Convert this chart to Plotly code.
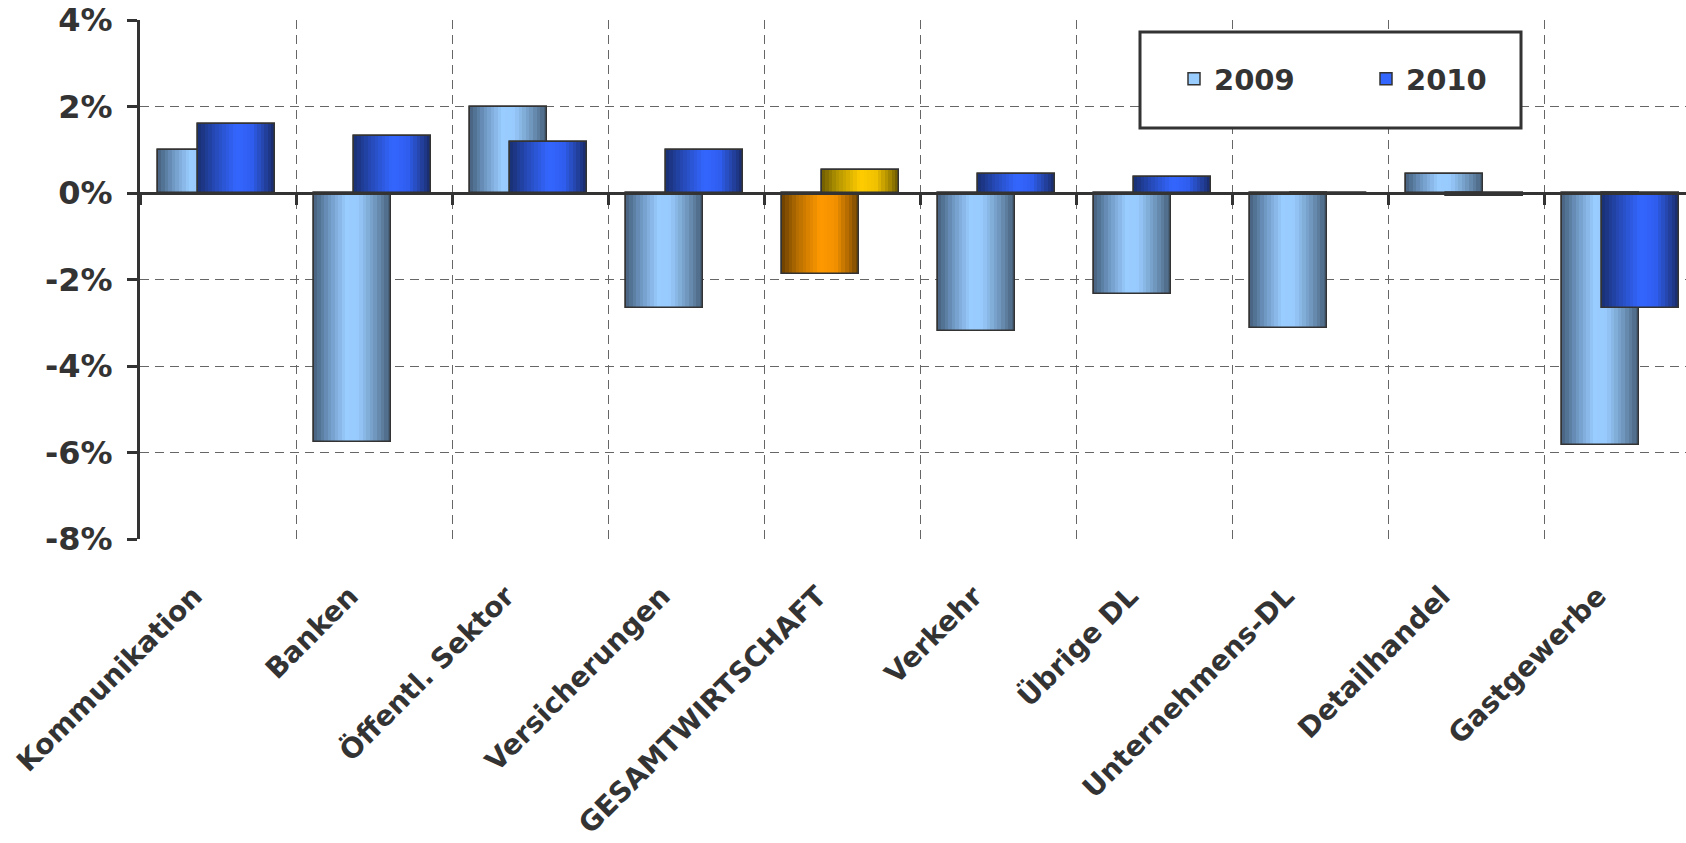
import plotly.graph_objects as go

# ---------------- data ----------------
categories = ["Kommunikation", "Banken", "Öffentl. Sektor", "Versicherungen",
              "GESAMTWIRTSCHAFT", "Verkehr", "Übrige DL", "Unternehmens-DL",
              "Detailhandel", "Gastgewerbe"]
v2009 = [1.0, -5.75, 2.0, -2.65, -1.87, -3.2, -2.33, -3.11, 0.45, -5.83]
v2010 = [1.6, 1.32, 1.18, 1.0, 0.53, 0.45, 0.36, 0.0, -0.07, -2.65]
series_names = ["2009", "2010"]
highlight = "GESAMTWIRTSCHAFT"
y_ticks = [-8, -6, -4, -2, 0, 2, 4]

# ---------------- style ----------------
TXT = "#333333"
FONT = "DejaVu Sans"
GRID = "#666666"
W = 0.494
OFFSETS = [-0.385, -0.13]
N_STRIPS = 22

GRADS = {
    "2009": [(0, "#45607c"), (0.18, "#6a92bc"), (0.42, "#99ccff"), (0.58, "#98cafd"),
             (0.8, "#6f96bd"), (1, "#435b74")],
    "2010": [(0, "#192f70"), (0.2, "#2447b0"), (0.5, "#3366ff"), (0.7, "#2f5ef0"),
             (0.88, "#23419e"), (1, "#182a66")],
    "hl2009": [(0, "#6a3f00"), (0.2, "#b56d00"), (0.5, "#ff9900"), (0.7, "#f29100"),
               (0.88, "#a66300"), (1, "#654000")],
    "hl2010": [(0, "#6e5c00"), (0.2, "#b39400"), (0.5, "#ffcc00"), (0.7, "#f2c200"),
               (0.88, "#a68800"), (1, "#6a5800")],
}
MID = {"2009": "#99ccff", "2010": "#3366ff", "hl2009": "#ff9900", "hl2010": "#ffcc00"}


def hex2rgb(h):
    h = h.lstrip("#")
    return tuple(int(h[i:i + 2], 16) for i in (0, 2, 4))


def interp(stops, t):
    for (t0, c0), (t1, c1) in zip(stops[:-1], stops[1:]):
        if t0 <= t <= t1:
            f = 0 if t1 == t0 else (t - t0) / (t1 - t0)
            a, b = hex2rgb(c0), hex2rgb(c1)
            return "rgb(%d,%d,%d)" % tuple(round(a[i] + (b[i] - a[i]) * f) for i in range(3))
    return stops[-1][1]


fig = go.Figure()
for name, vals, off in zip(series_names, [v2009, v2010], OFFSETS):
    hl = "hl" + name
    base_colors = [MID[hl] if c == highlight else MID[name] for c in categories]
    fig.add_trace(go.Bar(x=categories, y=vals, name=name, width=W, offset=off,
                         marker=dict(color=base_colors, line=dict(color=TXT, width=1.5)),
                         showlegend=True, hoverinfo="x+y"))
    d = W / N_STRIPS
    for i in range(N_STRIPS):
        t = (i + 0.5) / N_STRIPS
        cols = [interp(GRADS[hl], t) if c == highlight else interp(GRADS[name], t)
                for c in categories]
        left = off + i * d
        wid = min(d * 1.35, off + W - left)
        fig.add_trace(go.Bar(x=categories, y=vals, width=wid, offset=left,
                             marker=dict(color=cols, line=dict(width=0)),
                             showlegend=False, hoverinfo="skip"))
    fig.add_trace(go.Bar(x=categories, y=vals, width=W, offset=off,
                         marker=dict(color="rgba(0,0,0,0)", line=dict(color=TXT, width=1.5)),
                         showlegend=False, hoverinfo="skip"))

# helper trace carrying the zero axis (x2)
n = len(categories)
fig.add_trace(go.Scatter(x=[-0.5, n - 0.5], y=[0, 0], xaxis="x2", yaxis="y",
                         mode="lines", line=dict(width=0, color="rgba(0,0,0,0)"),
                         showlegend=False, hoverinfo="skip"))

BODY = 0                      # page margin removed by post_script below
AX_X, TOP_Y, BOT_Y = 140, 20, 539
L, T = AX_X - BODY, TOP_Y - BODY
Wfig, Hfig = 1686, 843
B = Hfig - (BOT_Y - BODY)
plot_w = Wfig - L
plot_h = Hfig - T - B
cat_px = 156.0
xr = [-0.5, plot_w / cat_px - 0.5]
ymin, ymax = -8, 4


def px_x(p):
    return (p - AX_X) / plot_w


def px_y(p):
    return (BOT_Y - p) / plot_h


fig.update_layout(
    width=Wfig, height=Hfig,
    margin=dict(l=L, r=0, t=T, b=B, pad=0, autoexpand=False),
    paper_bgcolor="white", plot_bgcolor="white",
    barmode="overlay", bargap=0,
    font=dict(family=FONT, color=TXT, size=28, weight="bold"),
    xaxis=dict(type="category", categoryorder="array", categoryarray=categories,
               range=xr, tickson="boundaries", showgrid=True, gridcolor=GRID,
               griddash="9px,6px", gridwidth=1.3, ticks="", showline=False,
               tickangle=-45, tickfont=dict(family=FONT, size=28, color=TXT, weight="bold"),
               ticklabelshift=-24, ticklabelstandoff=34, ticklabeloverflow="allow",
               zeroline=False, fixedrange=True, automargin=False),
    xaxis2=dict(overlaying="x", anchor="free", position=(0 - ymin) / (ymax - ymin),
                range=xr, type="linear", tickmode="array",
                tickvals=[k - 0.5 for k in range(n + 1)], ticks="outside",
                ticklen=10, tickwidth=3, tickcolor=TXT, showline=True, linewidth=3,
                linecolor=TXT, showticklabels=False, showgrid=False, zeroline=False,
                side="bottom", automargin=False),
    yaxis=dict(range=[ymin, ymax], tickmode="array", tickvals=y_ticks,
               ticktext=["%d%%" % v for v in y_ticks], showgrid=True, gridcolor=GRID,
               griddash="9px,6px", gridwidth=1.3, zeroline=False, showline=True,
               linewidth=3, linecolor=TXT, ticks="outside", ticklen=10, tickwidth=3,
               tickcolor=TXT, ticklabelstandoff=8, ticklabeloverflow="allow",
               automargin=False,
               tickfont=dict(family=FONT, size=32, color=TXT, weight="bold")),
    legend=dict(orientation="h", x=px_x(1174), y=px_y(79),
                xanchor="left", yanchor="middle", bgcolor="rgba(0,0,0,0)",
                font=dict(family=FONT, size=29, color=TXT, weight="bold"),
                entrywidth=147, entrywidthmode="pixels", borderwidth=0),
    shapes=[dict(type="rect", xref="paper", yref="paper",
                 x0=px_x(1140), x1=px_x(1521), y0=px_y(128), y1=px_y(32),
                 line=dict(color=TXT, width=3), fillcolor="white", layer="above")],
)

fig.write_html("out.html", config={"displayModeBar": False},
               post_script="document.body.style.margin='0';document.body.style.overflow='hidden';")
